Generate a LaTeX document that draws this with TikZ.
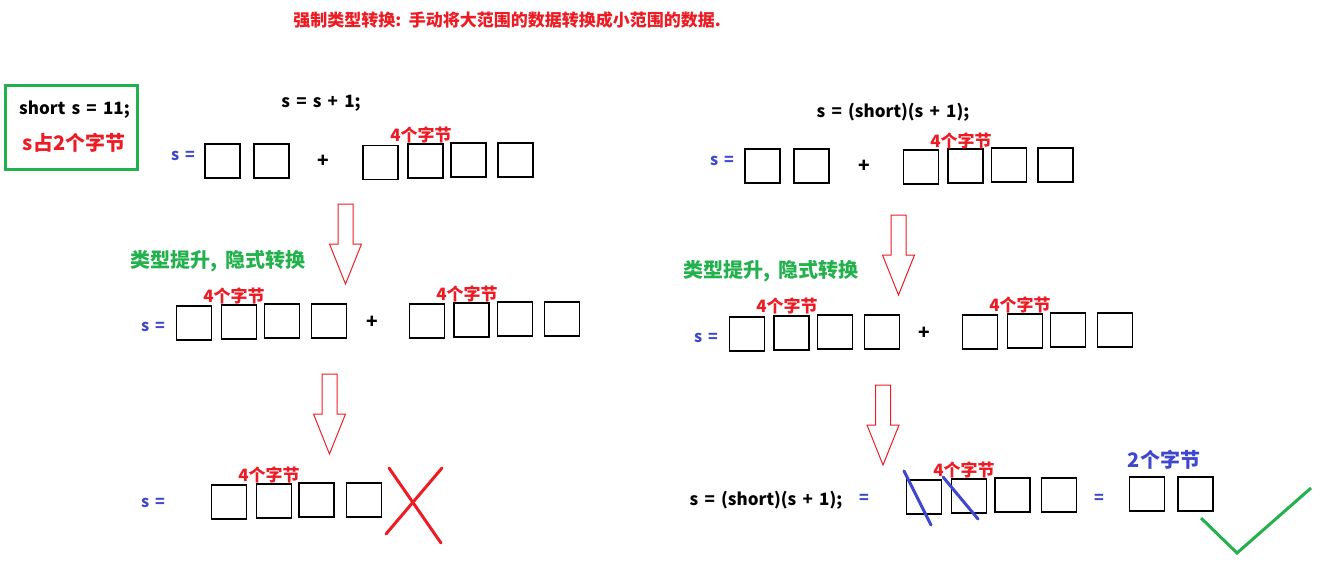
\documentclass[tikz,border=0pt]{standalone}
\usepackage{fontspec}
\setmainfont{Noto Sans CJK SC}[WordSpace=1.6]
\definecolor{pred}{HTML}{ED1C24}
\definecolor{pgreen}{HTML}{22B14C}
\definecolor{pblue}{HTML}{3F48CC}
\tikzset{
  bx/.style={draw=black, line width=1.3pt, minimum width=35pt, minimum height=34pt, inner sep=0pt},
  txt/.style={inner sep=0pt, font=\fontsize{17}{19}\selectfont\bfseries},
  plus/.style={inner sep=0pt, font=\fontsize{19}{21}\selectfont\bfseries},
  redl/.style={txt, text=pred, font=\fontsize{17}{19}\selectfont\bfseries},
  redbig/.style={txt, text=pred, font=\fontsize{20}{22}\selectfont\bfseries},
  greenl/.style={txt, text=pgreen, font=\fontsize{20}{22}\selectfont\bfseries},
  bluel/.style={txt, text=pblue, font=\fontsize{16}{18}\selectfont\bfseries},
  bluebig/.style={txt, text=pblue, font=\fontsize{20}{22}\selectfont\bfseries},
  hollowarrow/.style={draw=pred, line width=1pt, line join=miter},
  strokemark/.style={line width=3pt, line cap=round}
}
\newcommand{\downarrowshape}[3]{% name, centre x, top y
  \draw[hollowarrow] (#2-7.5,#3) -- (#2+7.5,#3) -- (#2+7.5,#3+40) -- (#2+16,#3+40)
    -- (#2,#3+80) -- (#2-16,#3+40) -- (#2-7.5,#3+40) -- cycle;
  \coordinate (#1) at (#2,#3+80);
}
\begin{document}
\begin{tikzpicture}[x=1pt,y=-1pt]
\useasboundingbox (0,0) rectangle (1322,586);
% title
\node[redl] (title) at (507,20) {强制类型转换: 手动将大范围的数据转换成小范围的数据.};
% declaration box
\node[draw=pgreen, line width=3pt, minimum width=132pt, minimum height=84pt, inner sep=0pt] (decl) at (71,127) {};
\node[txt] (declcode) at (74.5,110) {short s = 11;};
\node[redbig] (decltxt) at (74,143) {s占2个字节};

% ---------- left column ----------
\node[txt] (lcode) at (321,103) {s = s + 1;};
\node[bluel] (ls1) at (183,156) {s =};
\node[bx] (l1a) at (222.5,161) {};
\node[bx] (l1b) at (271.5,161) {};
\node[plus] (lplus1) at (323,161) {+};
\node[bx] (l1c) at (380.5,162.5) {};
\node[bx] (l1d) at (425.5,161) {};
\node[bx] (l1e) at (468.5,160) {};
\node[bx] (l1f) at (515.5,160) {};
\node[redl] (l1lab) at (421,135) {4个字节};

\downarrowshape{la1}{345.5}{204}
\node[greenl] (lgreen) at (218,261) {类型提升, 隐式转换};

\node[bluel] (ls2) at (153,327) {s =};
\node[bx] (l2a) at (194,323) {};
\node[bx] (l2b) at (239,322) {};
\node[bx] (l2c) at (282,321) {};
\node[bx] (l2d) at (329,321) {};
\node[plus] (lplus2) at (372,322) {+};
\node[bx] (l2e) at (427,321) {};
\node[bx] (l2f) at (471.5,320) {};
\node[bx] (l2g) at (515,319) {};
\node[bx] (l2h) at (562,319) {};
\node[redl] (l2lab1) at (234,296) {4个字节};
\node[redl] (l2lab2) at (467,294) {4个字节};

\downarrowshape{la2}{329.5}{374}
\node[bluel] (ls3) at (153,503) {s =};
\node[bx] (l3a) at (229,502) {};
\node[bx] (l3b) at (274,501) {};
\node[bx] (l3c) at (316.5,500) {};
\node[bx] (l3d) at (364,500) {};
\node[redl] (l3lab) at (269,475) {4个字节};
\draw[strokemark, draw=pred] (386,534) -- (442,468);
\draw[strokemark, draw=pred] (389,468) -- (441,543);

% ---------- right column ----------
\node[txt] (rcode) at (893,112) {s = (short)(s + 1);};
\node[bluel] (rs1) at (722,161) {s =};
\node[bx] (r1a) at (762.5,166) {};
\node[bx] (r1b) at (811.5,166) {};
\node[plus] (rplus1) at (864,166) {+};
\node[bx] (r1c) at (921,167) {};
\node[bx] (r1d) at (965.5,166) {};
\node[bx] (r1e) at (1009,165) {};
\node[bx] (r1f) at (1055.5,165) {};
\node[redl] (r1lab) at (961,141) {4个字节};

\downarrowshape{ra1}{898.5}{215}
\node[greenl] (rgreen) at (771,271) {类型提升, 隐式转换};

\node[bluel] (rs2) at (706,338) {s =};
\node[bx] (r2a) at (747,334) {};
\node[bx] (r2b) at (791.5,333) {};
\node[bx] (r2c) at (835,332) {};
\node[bx] (r2d) at (882,332) {};
\node[plus] (rplus2) at (924,333) {+};
\node[bx] (r2e) at (980,332) {};
\node[bx] (r2f) at (1025,331) {};
\node[bx] (r2g) at (1068,330) {};
\node[bx] (r2h) at (1115,330) {};
\node[redl] (r2lab1) at (787,306) {4个字节};
\node[redl] (r2lab2) at (1020,305) {4个字节};

\downarrowshape{ra2}{883}{385}
\node[txt] (rcode3) at (766,500) {s = (short)(s + 1);};
\node[bluel] (req1) at (864,499) {=};
\node[bx] (r3a) at (924,497) {};
\node[bx] (r3b) at (969,496) {};
\node[bx] (r3c) at (1012.5,495) {};
\node[bx] (r3d) at (1059,495) {};
\node[redl] (r3lab) at (964,470) {4个字节};
\node[bluel] (req2) at (1099,499) {=};
\node[bx] (r3e) at (1147,494) {};
\node[bx] (r3f) at (1195.5,494) {};
\node[bluebig] (r3lab2) at (1164,460) {2个字节};
\draw[strokemark, draw=pblue] (904,471) -- (931,525);
\draw[strokemark, draw=pblue] (943,477) -- (978,519);
\draw[strokemark, draw=pgreen, line cap=butt, line join=miter] (1201,518) -- (1237,553) -- (1311,488);
\end{tikzpicture}
\end{document}
